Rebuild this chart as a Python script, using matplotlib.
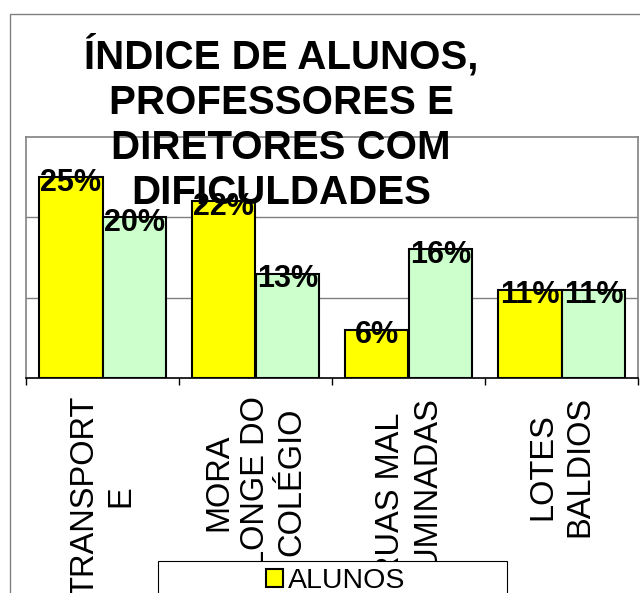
import matplotlib
matplotlib.use("Agg")
import matplotlib.pyplot as plt
from matplotlib.patches import Rectangle
import numpy as np

# =========================
# DADOS
# =========================

TITULO = "ÍNDICE DE ALUNOS,\nPROFESSORES E\nDIRETORES COM\nDIFICULDADES"

categorias = ["TRANSPORT\nE", "MORA\nLONGE DO\nCOLÉGIO", "RUAS MAL\nILUMINADAS", "LOTES\nBALDIOS"]
series = ["ALUNOS", "PROFESSORES E DIRETORES"]
alunos = [0.25, 0.22, 0.06, 0.11]
professores = [0.20, 0.13, 0.16, 0.11]
rotulos_alunos = ["25%", "22%", "6%", "11%"]
rotulos_professores = ["20%", "13%", "16%", "11%"]

AMARELO = "#FFFF00"
VERDE = "#CCFFCC"
CINZA = "#808080"

W, H = 640, 593

plt.rcParams["font.family"] = ["Liberation Sans", "DejaVu Sans"]

fig = plt.figure(figsize=(W / 100, H / 100), dpi=100)
fig.patch.set_facecolor("white")

# borda externa do gráfico (cortada à direita e embaixo)
fig.add_artist(Rectangle((10 / W, -0.2), 1.2, (1 - 14 / H) + 0.2,
                         transform=fig.transFigure, fill=False,
                         edgecolor=CINZA, lw=1))

# área de plotagem
ax = fig.add_axes([26 / W, 1 - 378 / H, (638 - 26) / W, (378 - 137) / H])

x = np.arange(len(categorias))
larg = 0.418
b1 = ax.bar(x - larg / 2, alunos, larg, color=AMARELO, edgecolor="black", lw=1.5, zorder=3, label=series[0])
b2 = ax.bar(x + larg / 2, professores, larg, color=VERDE, edgecolor="black", lw=1.5, zorder=3, label=series[1])

for barras, rots in [(b1, rotulos_alunos), (b2, rotulos_professores)]:
    for rect, txt in zip(barras, rots):
        ax.annotate(txt, (rect.get_x() + rect.get_width() / 2, rect.get_height()),
                    xytext=(0, -4), textcoords="offset points",
                    ha="center", va="center", fontsize=22, fontweight="bold",
                    zorder=5, annotation_clip=False)

ax.set_xlim(-0.5, len(categorias) - 0.5)
ax.set_ylim(0, 0.30)

# grade
ax.set_yticks([0.1, 0.2])
ax.yaxis.grid(True, color=CINZA, lw=1)
ax.set_axisbelow(True)
ax.tick_params(axis="y", length=0, labelleft=False)

# marcas nas divisões e rótulos no centro das categorias
ax.set_xticks(np.arange(len(categorias) + 1) - 0.5)
ax.set_xticklabels([])
ax.tick_params(axis="x", which="major", length=5, width=1, color="black", direction="out")
ax.set_xticks(x, minor=True)
ax.set_xticklabels(categorias, minor=True, rotation=90, fontsize=23.5,
                   multialignment="center", linespacing=1.22)
ax.tick_params(axis="x", which="minor", length=0, pad=13)

for lado in ["left", "top", "right"]:
    ax.spines[lado].set_color(CINZA)
    ax.spines[lado].set_linewidth(1.2)
ax.spines["bottom"].set_color("black")
ax.spines["bottom"].set_linewidth(1.2)

# título
fig.text(281 / W, 1 - 34 / H, TITULO, ha="center", va="top",
         fontsize=29, fontweight="bold", linespacing=1.24, zorder=10)

# legenda (só a primeira linha aparece)
fig.add_artist(Rectangle((158 / W, -0.2), (507 - 158) / W, (1 - 561 / H) + 0.2,
                         transform=fig.transFigure, facecolor="white",
                         edgecolor="black", lw=0.8, zorder=20))
leg = fig.legend(handles=[b1, b2], labels=series, loc="upper left",
                 bbox_to_anchor=(266 / W, 1 - 568 / H), frameon=False,
                 fontsize=20.5, handlelength=0.6, handleheight=0.6,
                 handletextpad=0.18, borderpad=0, borderaxespad=0)
leg.set_zorder(21)

fig.savefig("out.png", dpi=100)
